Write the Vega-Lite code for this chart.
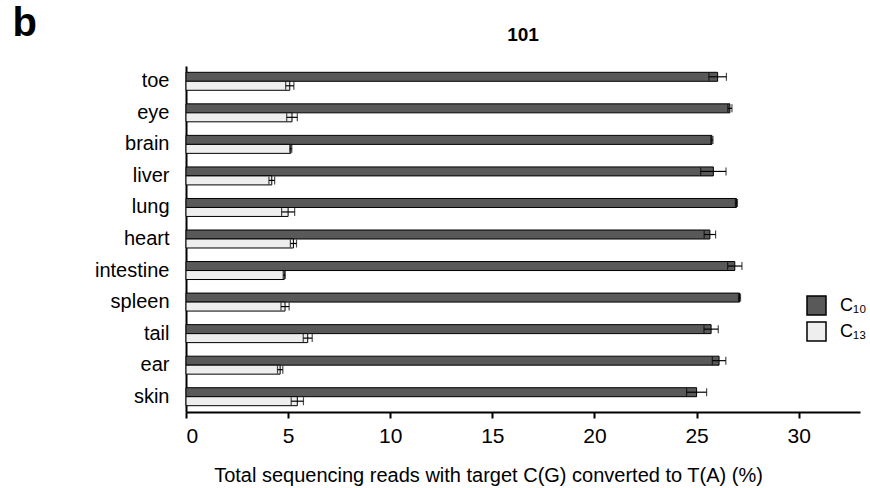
{
  "$schema": "https://vega.github.io/schema/vega-lite/v6.json",
  "width": 674,
  "height": 346,
  "autosize": {"type": "none"},
  "padding": {"left": 186, "top": 66, "right": 10, "bottom": 76},
  "config": {"view": {"stroke": null}, "font": "Liberation Sans"},
  "title": {"text": "101", "fontSize": 19, "fontWeight": "bold", "anchor": "middle", "frame": "group", "offset": 0, "dy": 42, "color": "black"},
  "data": {"values": [
    {"tissue": "toe", "series": "C₁₀", "value": 26.03, "lo": 25.6, "hi": 26.46},
    {"tissue": "toe", "series": "C₁₃", "value": 5.08, "lo": 4.88, "hi": 5.28},
    {"tissue": "eye", "series": "C₁₀", "value": 26.63, "lo": 26.53, "hi": 26.73},
    {"tissue": "eye", "series": "C₁₃", "value": 5.19, "lo": 4.93, "hi": 5.45},
    {"tissue": "brain", "series": "C₁₀", "value": 25.75, "lo": 25.7, "hi": 25.8},
    {"tissue": "brain", "series": "C₁₃", "value": 5.13, "lo": 5.08, "hi": 5.18},
    {"tissue": "liver", "series": "C₁₀", "value": 25.82, "lo": 25.2, "hi": 26.44},
    {"tissue": "liver", "series": "C₁₃", "value": 4.2, "lo": 4.06, "hi": 4.34},
    {"tissue": "lung", "series": "C₁₀", "value": 26.95, "lo": 26.9, "hi": 27.0},
    {"tissue": "lung", "series": "C₁₃", "value": 5.0, "lo": 4.68, "hi": 5.32},
    {"tissue": "heart", "series": "C₁₀", "value": 25.65, "lo": 25.37, "hi": 25.93},
    {"tissue": "heart", "series": "C₁₃", "value": 5.26, "lo": 5.11, "hi": 5.41},
    {"tissue": "intestine", "series": "C₁₀", "value": 26.87, "lo": 26.52, "hi": 27.22},
    {"tissue": "intestine", "series": "C₁₃", "value": 4.81, "lo": 4.76, "hi": 4.86},
    {"tissue": "spleen", "series": "C₁₀", "value": 27.1, "lo": 27.05, "hi": 27.15},
    {"tissue": "spleen", "series": "C₁₃", "value": 4.85, "lo": 4.65, "hi": 5.05},
    {"tissue": "tail", "series": "C₁₀", "value": 25.71, "lo": 25.36, "hi": 26.06},
    {"tissue": "tail", "series": "C₁₃", "value": 5.96, "lo": 5.74, "hi": 6.18},
    {"tissue": "ear", "series": "C₁₀", "value": 26.1, "lo": 25.77, "hi": 26.43},
    {"tissue": "ear", "series": "C₁₃", "value": 4.61, "lo": 4.48, "hi": 4.74},
    {"tissue": "skin", "series": "C₁₀", "value": 25.0, "lo": 24.51, "hi": 25.49},
    {"tissue": "skin", "series": "C₁₃", "value": 5.45, "lo": 5.15, "hi": 5.75}
  ]},
  "encoding": {
    "y": {"field": "tissue", "type": "nominal",
      "sort": ["toe", "eye", "brain", "liver", "lung", "heart", "intestine", "spleen", "tail", "ear", "skin"],
      "scale": {"paddingInner": 0.43, "paddingOuter": 0.2},
      "axis": {"title": "b", "titleAngle": 0, "titleX": -174, "titleY": -31, "titleAlign": "left", "titleBaseline": "alphabetic", "titleFontSize": 40, "titleFontWeight": "bold", "titleColor": "black",
        "labelFontSize": 20, "labelColor": "black", "ticks": false, "labelPadding": 17, "domainColor": "black", "domainWidth": 2}},
    "yOffset": {"field": "series", "type": "nominal", "sort": ["C₁₀", "C₁₃"], "scale": {"paddingInner": 0, "paddingOuter": 0}}
  },
  "layer": [
    {
      "mark": {"type": "bar", "stroke": "black", "strokeWidth": 1},
      "encoding": {
        "x": {"field": "value", "type": "quantitative", "scale": {"domain": [0, 33], "nice": false},
          "axis": {"title": "Total sequencing reads with target C(G) converted to T(A) (%)", "titleFontSize": 20, "titleFontWeight": "normal", "titleColor": "black", "titleX": 302, "titleY": 69, "titleBaseline": "alphabetic",
            "values": [0, 5, 10, 15, 20, 25, 30], "labelFontSize": 21, "labelColor": "black", "tickSize": 6, "tickColor": "black", "tickWidth": 2, "labelPadding": 7, "domainColor": "black", "domainWidth": 2, "grid": false}},
        "fill": {"field": "series", "type": "nominal", "sort": ["C₁₀", "C₁₃"],
          "scale": {"domain": ["C₁₀", "C₁₃"], "range": ["#595959", "#eeeeee"]},
          "legend": {"title": null, "orient": "none", "legendX": 620, "legendY": 229, "symbolType": "square", "symbolSize": 361, "symbolStrokeColor": "black", "symbolStrokeWidth": 1.5, "labelFontSize": 18, "labelColor": "black", "rowPadding": 1, "labelOffset": 13}}
      }
    },
    {
      "mark": {"type": "rule", "color": "black", "strokeWidth": 1.2},
      "encoding": {"x": {"field": "lo", "type": "quantitative"}, "x2": {"field": "hi"}}
    },
    {
      "mark": {"type": "tick", "color": "black", "thickness": 1.2, "size": 8},
      "encoding": {"x": {"field": "lo", "type": "quantitative"}}
    },
    {
      "mark": {"type": "tick", "color": "black", "thickness": 1.2, "size": 8},
      "encoding": {"x": {"field": "hi", "type": "quantitative"}}
    }
  ]
}
